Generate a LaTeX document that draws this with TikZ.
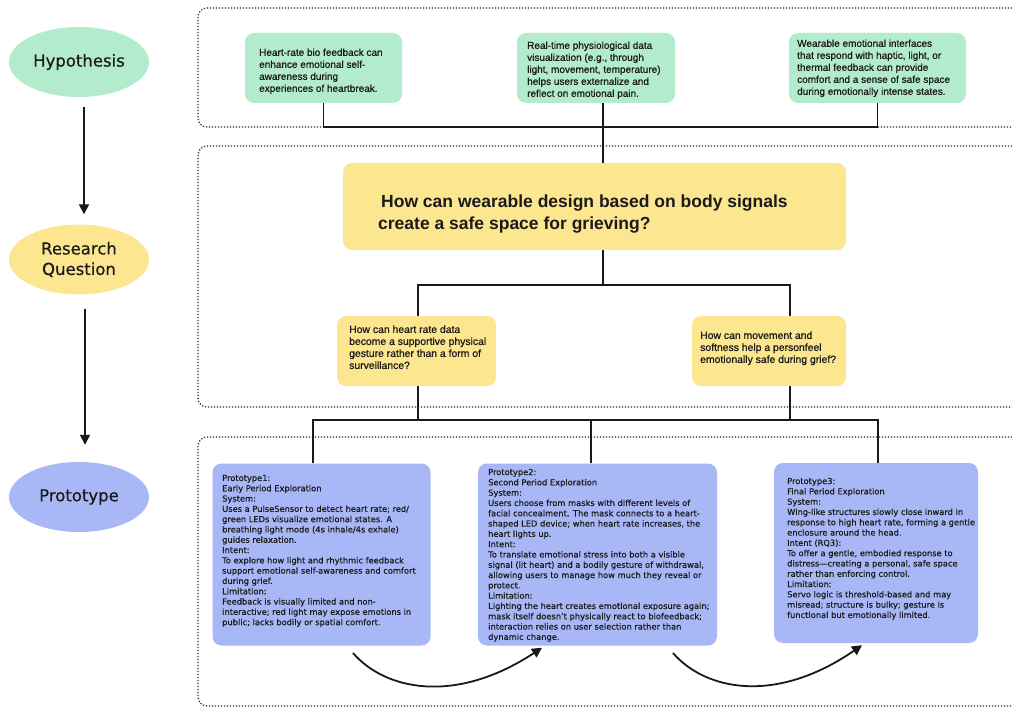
\documentclass[tikz,border=0pt]{standalone}
\usepackage{fontspec}
\setmainfont{Liberation Sans}
\newfontfamily\bodyfont[FakeBold=0.8]{Liberation Sans}
\newfontfamily\dejavu[FakeBold=0.5]{DejaVu Sans}
\usetikzlibrary{shapes.geometric,arrows.meta}
\definecolor{hgreen}{HTML}{B3EBCD}
\definecolor{ryellow}{HTML}{FCE68F}
\definecolor{pblue}{HTML}{A8B7F5}
\definecolor{ink}{HTML}{1A1A1A}
\tikzset{
 container/.style={draw=black!85, line width=1.3pt, dash pattern=on 1.2pt off 1.8pt, rounded corners=9pt},
 stage/.style={ellipse, minimum width=140pt, minimum height=70pt, inner sep=0pt, align=center, text=ink, font=\dejavu\fontsize{16.5}{20.5}\selectfont},
 card/.style={rounded corners=9pt, inner sep=0pt},
 hcard/.style={card, fill=hgreen},
 ycard/.style={card, fill=ryellow},
 pcard/.style={card, fill=pblue},
 txt/.style={anchor=north west, inner sep=0pt, align=left, text=ink},
 htxt/.style={txt, font=\bodyfont\fontsize{10}{12}\selectfont},
 qtxt/.style={txt, font=\bodyfont\fontsize{10.4}{12}\selectfont},
 rtxt/.style={txt, font=\bfseries\fontsize{17.5}{22}\selectfont},
 ptxt/.style={txt, font=\dejavu\fontsize{8.3}{10.3}\selectfont},
 link/.style={line width=1.6pt, draw=black!90},
 flow/.style={line width=1.8pt, draw=black!90, -{Triangle[length=10pt,width=10pt]}},
}
\begin{document}
\begin{tikzpicture}[x=1pt,y=-1pt]
\useasboundingbox (0,0) rectangle (1012,708);
\fill[white] (0,0) rectangle (1012,708);

% dotted containers
\draw[container] (1012,8) -- (198,8) -- (198,127) -- (1012,127);
\draw[container] (1012,146) -- (198,146) -- (198,407) -- (1012,407);
\draw[container] (1012,437) -- (198,437) -- (198,706) -- (1012,706);

% stage ellipses
\node[stage, fill=hgreen] (hyp) at (79,62) {Hypothesis};
\node[stage, fill=ryellow] (rqs) at (79,259.5) {Research\\Question};
\node[stage, fill=pblue] (pro) at (79,497) {Prototype};
\draw[flow] ([xshift=5pt,yshift=-10pt]hyp.south) -- ([xshift=5pt,yshift=10pt]rqs.north);
\draw[flow] ([xshift=6pt,yshift=-14pt]rqs.south) -- ([xshift=6pt,yshift=17pt]pro.north);

% hypothesis cards
\node[hcard, minimum width=157pt, minimum height=70pt] (h1) at (323.5,68) {};
\node[hcard, minimum width=158pt, minimum height=70pt] (h2) at (596,68) {};
\node[hcard, minimum width=177pt, minimum height=70pt] (h3) at (877.5,68) {};
\node[htxt] (h1t) at (259,48.4) {Heart-rate bio feedback can\\enhance emotional self-\\awareness during\\experiences of heartbreak.};
\node[htxt] (h2t) at (527,41.4) {Real-time physiological data\\visualization (e.g., through\\light, movement, temperature)\\helps users externalize and\\reflect on emotional pain.};
\node[htxt] (h3t) at (797,39.4) {Wearable emotional interfaces\\that respond with haptic, light, or\\thermal feedback can provide\\comfort and a sense of safe space\\during emotionally intense states.};

% research question cards
\node[ycard, minimum width=503pt, minimum height=87pt] (rq) at (594.5,206.5) {};
\node[rtxt] (rqt) at (378,195) {\hspace{3pt}How can wearable design based on body signals\\create a safe space for grieving?};
\node[ycard, minimum width=159pt, minimum height=70pt] (s1) at (416.5,351) {};
\node[ycard, minimum width=154pt, minimum height=70pt] (s2) at (769,351) {};
\node[qtxt] (s1t) at (349,325.2) {How can heart rate data\\become a supportive physical\\gesture rather than a form of\\surveillance?};
\node[qtxt] (s2t) at (700,331.2) {How can movement and\\softness help a personfeel\\emotionally safe during grief?};

% prototype cards
\node[pcard, minimum width=218pt, minimum height=182pt] (p1) at (321.5,554.5) {};
\node[pcard, minimum width=239pt, minimum height=182pt] (p2) at (597.5,554.5) {};
\node[pcard, minimum width=204pt, minimum height=180pt] (p3) at (876,553) {};
\node[ptxt] (p1t) at (222,474.7) {Prototype1:\\Early Period Exploration\\System:\\Uses a PulseSensor to detect heart rate; red/\\green LEDs visualize emotional states. A\\breathing light mode (4s inhale/4s exhale)\\guides relaxation.\\Intent:\\To explore how light and rhythmic feedback\\support emotional self-awareness and comfort\\during grief.\\Limitation:\\Feedback is visually limited and non-\\interactive; red light may expose emotions in\\public; lacks bodily or spatial comfort.};
\node[ptxt] (p2t) at (488,468.7) {Prototype2:\\Second Period Exploration\\System:\\Users choose from masks with different levels of\\facial concealment. The mask connects to a heart-\\shaped LED device; when heart rate increases, the\\heart lights up.\\Intent:\\To translate emotional stress into both a visible\\signal (lit heart) and a bodily gesture of withdrawal,\\allowing users to manage how much they reveal or\\protect.\\Limitation:\\Lighting the heart creates emotional exposure again;\\mask itself doesn’t physically react to biofeedback;\\interaction relies on user selection rather than\\dynamic change.};
\node[ptxt] (p3t) at (787,477.7) {Prototype3:\\Final Period Exploration\\System:\\Wing-like structures slowly close inward in\\response to high heart rate, forming a gentle\\enclosure around the head.\\Intent (RQ3):\\To offer a gentle, embodied response to\\distress—creating a personal, safe space\\rather than enforcing control.\\Limitation:\\Servo logic is threshold-based and may\\misread; structure is bulky; gesture is\\functional but emotionally limited.};

% tree connectors
\coordinate (jh) at (603,127);
\draw[link] (h1.south) |- (jh) -| (h3.south);
\draw[link] (h2.south -| jh) -- (rq.north -| jh);
\coordinate (jr) at (603,285);
\coordinate (ja) at (418,285);
\coordinate (jb) at (790,285);
\draw[link] (rq.south -| jr) -- (jr);
\draw[link] (s1.north -| ja) -- (ja) -- (jb) -- (s2.north -| jb);
\coordinate (jc) at (418,420);
\coordinate (jd) at (790,420);
\coordinate (pl) at (313,420);
\coordinate (pm) at (591,420);
\coordinate (pr) at (878,420);
\draw[link] (s1.south -| jc) -- (jc);
\draw[link] (s2.south -| jd) -- (jd);
\draw[link] (p1.north -| pl) -- (pl) -- (pr) -- (p3.north -| pr);
\draw[link] (pm) -- (p2.north -| pm);

% sequence arrows
\coordinate (a1s) at (353,653);
\coordinate (a2s) at (673,653);
\draw[flow] (a1s) .. controls (385,690) and (455,705) .. ([xshift=-55.5pt,yshift=-2pt]p2.south);
\draw[flow] (a2s) .. controls (705,690) and (775,705) .. ([xshift=-14pt,yshift=-2pt]p3.south);
\end{tikzpicture}
\end{document}
